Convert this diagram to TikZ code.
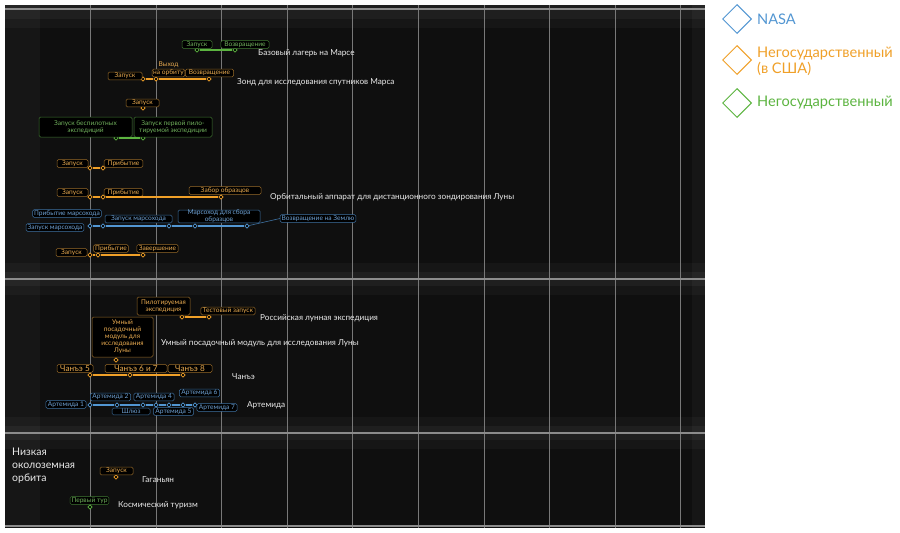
\documentclass[tikz,border=0pt]{standalone}
\usepackage{fontspec}
\setmainfont{Lato}
\usetikzlibrary{shapes.geometric}

\definecolor{panelbg}{RGB}{15,15,15}
\definecolor{gridc}{RGB}{120,120,120}
\definecolor{bandc}{RGB}{140,140,140}
\definecolor{nasa}{RGB}{82,150,210}
\definecolor{nasaedge}{RGB}{62,112,160}
\definecolor{nasatext}{RGB}{110,160,210}
\definecolor{ous}{RGB}{240,160,40}
\definecolor{ousedge}{RGB}{150,105,40}
\definecolor{oustext}{RGB}{232,170,80}
\definecolor{priv}{RGB}{92,180,64}
\definecolor{privedge}{RGB}{64,120,50}
\definecolor{privtext}{RGB}{112,176,92}
\definecolor{titlec}{RGB}{235,235,235}

\tikzstyle{lab} = [rounded corners=1.5pt, fill=black, inner xsep=3.5pt, inner ysep=1pt, minimum width=30pt, line width=0.5pt, font=\fontsize{6.6}{7}\selectfont, align=center]
\tikzstyle{blab} = [lab, draw=nasaedge, text=nasatext]
\tikzstyle{olab} = [lab, draw=ousedge, text=oustext]
\tikzstyle{glab} = [lab, draw=privedge, text=privtext]
\tikzstyle{dmark} = [diamond, fill=black, inner sep=0pt, minimum size=4.5pt, line width=0.6pt]
\tikzstyle{bmark} = [dmark, draw=nasa]
\tikzstyle{omark} = [dmark, draw=ous]
\tikzstyle{gmark} = [dmark, draw=priv]
\tikzstyle{bline} = [nasa, line width=2.4pt]
\tikzstyle{oline} = [ous, line width=2.4pt]
\tikzstyle{gline} = [priv, line width=2.4pt]
\tikzstyle{progname} = [anchor=west, text=titlec, inner sep=0pt, font=\fontsize{8.2}{9}\selectfont]
\tikzstyle{keybox} = [diamond, draw, line width=1pt, inner sep=0pt, minimum size=29pt]
\tikzstyle{keytext} = [anchor=west, inner sep=0pt, align=left, font=\fontsize{14.6}{16.5}\selectfont]

\begin{document}
\begin{tikzpicture}[x=1pt,y=-1pt]
      \useasboundingbox[fill=white] (0,0) rectangle (900,533);

      \fill[panelbg] (5,5) rectangle (705,528);
      \foreach \y in {12,279,433}
        \fill[white, opacity=0.03] (5,\y-16) rectangle (705,\y+16);
      \foreach \y in {12,279,433}
        \fill[white, opacity=0.04] (5,\y-7) rectangle (705,\y+7);
      \fill[white, opacity=0.03] (5,5) rectangle (40,528);
      \fill[white, opacity=0.03] (692,5) rectangle (705,528);
      \foreach \x in {90,156,221,287,352,418,484,549,615,680}
        \draw[gridc, line width=0.8pt] (\x,5) -- (\x,528);
      \foreach \y in {9,279,433,526}
        \draw[bandc, line width=2pt] (5,\y) -- (705,\y);

      \node[gmark] (mb1) at (197,50) {};
      \node[gmark] (mb2) at (235,50) {};
      \node[glab] (mb1l) at (197,44.5) {Запуск};
      \node[glab] (mb2l) at (245,44.5) {Возвращение};
      \node[progname] (mb) at (258,53) {Базовый лагерь на Марсе};
      \draw[gline] (mb1) -- (mb2);

      \node[omark] (mz1) at (143,79) {};
      \node[omark] (mz2) at (156,79) {};
      \node[omark] (mz3) at (209,79) {};
      \node[olab, minimum width=34pt] (mz1l) at (125,76) {Запуск};
      \node[olab, minimum width=28pt, inner xsep=1pt, label={[text=oustext, inner sep=0.5pt, font=\fontsize{6.6}{7}\selectfont]above:Выход}] (mz2l) at (168.5,73) {на орбиту};
      \node[olab] (mz3l) at (209.5,73) {Возвращение};
      \node[progname] (mz) at (237,82) {Зонд для исследования спутников Марса};
      \draw[oline] (mz1) -- (mz2) -- (mz3);

      \node[omark] (ms1) at (143,108) {};
      \node[olab, minimum width=33pt] (ms1l) at (142.5,103) {Запуск};

      \node[gmark] (me1) at (116,138) {};
      \node[gmark] (me2) at (143,138) {};
      \node[glab, minimum width=93pt, minimum height=20pt] (me1l) at (85.5,127) {Запуск беспилотных\\экспедиций};
      \node[glab, minimum width=78pt, minimum height=20pt] (me2l) at (173,127) {Запуск первой пило-\\тируемой экспедиции};
      \draw[gline] (me1) -- (me2);

      \node[omark] (mp1) at (90,168) {};
      \node[omark] (mp2) at (103,168) {};
      \node[olab, minimum width=31pt] (mp1l) at (72.5,163.5) {Запуск};
      \node[olab, minimum width=37pt] (mp2l) at (123.5,163.5) {Прибытие};
      \draw[oline] (mp1) -- (mp2);

      \node[omark] (mo1) at (90,197) {};
      \node[omark] (mo2) at (103,197) {};
      \node[omark] (mo3) at (221,197) {};
      \node[olab, minimum width=31pt] (mo1l) at (72.5,192.5) {Запуск};
      \node[olab, minimum width=37pt] (mo2l) at (123.5,192.5) {Прибытие};
      \node[olab, minimum width=72pt] (mo3l) at (225,190.5) {Забор образцов};
      \node[progname] (mo) at (270,197) {Орбитальный аппарат для дистанционного зондирования Луны};
      \draw[oline] (mo1) -- (mo2) -- (mo3);

      \node[bmark] (mr1) at (90,226) {};
      \node[bmark] (mr2) at (103,226) {};
      \node[bmark] (mr3) at (169,226) {};
      \node[bmark] (mr4) at (195,226) {};
      \node[bmark] (mr5) at (247,226) {};
      \node[blab, inner xsep=1.5pt] (mr2l) at (67,213.5) {Прибытие марсохода};
      \node[blab, inner xsep=1.5pt] (mr1l) at (55,227.5) {Запуск марсохода};
      \node[blab, minimum width=67pt] (mr3l) at (138.5,219) {Запуск марсохода};
      \node[blab, minimum width=82pt, inner ysep=0pt] (mr4l) at (219,216.5) {Марсоход для сбора\\образцов};
      \node[blab, inner xsep=1.5pt] (mr5l) at (318,218.5) {Возвращение на Землю};
      \draw[bline] (mr1) -- (mr2) -- (mr3) -- (mr4) -- (mr5);
      \draw[nasaedge, line width=0.6pt] (mr5) -- (mr5l.west);

      \node[omark] (mc1) at (90,255) {};
      \node[omark] (mc2) at (98,255) {};
      \node[omark] (mc3) at (143,255) {};
      \node[olab, minimum width=31pt] (mc1l) at (71.5,252.5) {Запуск};
      \node[olab, inner xsep=1.5pt] (mc2l) at (111,248.5) {Прибытие};
      \node[olab, inner xsep=2pt] (mc3l) at (157.5,248.5) {Завершение};
      \draw[oline] (mc1) -- (mc2) -- (mc3);

      \node[omark] (mru1) at (182,317) {};
      \node[omark] (mru2) at (209,317) {};
      \node[olab, minimum width=53pt, minimum height=18pt] (mru1l) at (163.5,306) {Пилотируемая\\экспедиция};
      \node[olab, inner xsep=2pt] (mru2l) at (228,311) {Тестовый запуск};
      \node[progname] (mru) at (260,318) {Российская лунная экспедиция};
      \draw[oline] (mru1) -- (mru2);

      \node[omark] (ml1) at (116,360) {};
      \node[olab, minimum width=61pt, minimum height=40pt] (ml1l) at (122.5,337) {Умный\\посадочный\\модуль для\\исследования\\Луны};
      \node[progname] (ml) at (161,343) {Умный посадочный модуль для исследования Луны};

      \node[omark] (mch1) at (90,375) {};
      \node[omark] (mch2) at (130,375) {};
      \node[omark] (mch3) at (183,375) {};
      \node[olab, font=\fontsize{8.2}{9}\selectfont, minimum width=36pt, inner xsep=1.5pt] (mch1l) at (75,368.5) {Чанъэ 5};
      \node[olab, font=\fontsize{8.2}{9}\selectfont, minimum width=62pt] (mch2l) at (136,368.5) {Чанъэ 6 и 7};
      \node[olab, font=\fontsize{8.2}{9}\selectfont, minimum width=44pt] (mch3l) at (190,368.5) {Чанъэ 8};
      \node[progname] (mch) at (232,377) {Чанъэ};
      \draw[oline] (mch1) -- (mch2) -- (mch3);

      \node[bmark] (ma1) at (90,405) {};
      \node[bmark] (ma2) at (117,405) {};
      \node[bmark] (ma3) at (143,405) {};
      \node[bmark] (ma4) at (156,405) {};
      \node[bmark] (ma5) at (169,405) {};
      \node[bmark] (ma6) at (183,405) {};
      \node[bmark] (ma7) at (195,405) {};
      \node[blab, inner xsep=2pt] (ma1l) at (66,404.5) {Артемида 1};
      \node[blab, inner xsep=2pt] (ma2l) at (110.5,397) {Артемида 2};
      \node[blab, inner xsep=2pt] (ma4l) at (154,397) {Артемида 4};
      \node[blab, inner xsep=2pt] (ma6l) at (199.5,393) {Артемида 6};
      \node[blab, minimum width=38pt] (ma3l) at (131,411.5) {Шлюз};
      \node[blab, inner xsep=2pt] (ma5l) at (173.5,411.5) {Артемида 5};
      \node[blab, inner xsep=2pt] (ma7l) at (217,407.5) {Артемида 7};
      \node[progname] (ma) at (247,405) {Артемида};
      \draw[bline] (ma1) -- (ma2) -- (ma3) -- (ma4) -- (ma5) -- (ma6) -- (ma7);

      \node[progname, align=left, font=\fontsize{10.5}{13}\selectfont] (leo) at (12,466) {Низкая\\околоземная\\орбита};

      \node[omark] (mg1) at (116,477) {};
      \node[olab, minimum width=33pt] (mg1l) at (116.5,471) {Запуск};
      \node[progname] (mg) at (142,480) {Гаганьян};

      \node[gmark] (mt1) at (90,507) {};
      \node[glab, inner xsep=1.5pt] (mt1l) at (89.5,500.5) {Первый тур};
      \node[progname] (mt) at (118,505) {Космический туризм};

      \node[keybox, draw=nasa] (kb) at (737,19) {};
      \node[keybox, draw=ous] (ko) at (737,60) {};
      \node[keybox, draw=priv] (kg) at (737,103) {};
      \node[keytext, text=nasa] (kbt) at (757,19) {NASA};
      \node[keytext, text=ous] (kot) at (757,61.5) {Негосударственный\\(в США)};
      \node[keytext, text=priv] (kgt) at (757,103) {Негосударственный};
\end{tikzpicture}
\end{document}
